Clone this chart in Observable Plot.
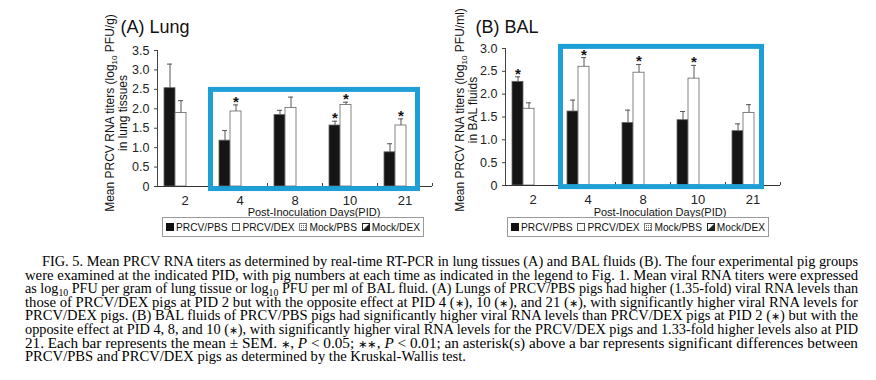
<!DOCTYPE html>
<html>
<head>
<meta charset="utf-8">
<script src="https://cdn.jsdelivr.net/npm/d3@7"></script>
<script src="https://cdn.jsdelivr.net/npm/@observablehq/plot@0.6"></script>
<style>
  body { margin: 0; background: #fff; }
  #wrap { position: relative; width: 876px; height: 380px; overflow: hidden; background: #fff;
          font-family: "Liberation Sans", Arial, sans-serif; }
  .panel { position: absolute; top: 0; }
  .legend { position: absolute; top: 217px; height: 20px; box-sizing: border-box; border: 1px solid #9a9a9a;
            display: flex; align-items: center; justify-content: space-between; padding: 0 3px;
            font-size: 10.2px; color: #111; white-space: nowrap; }
  .legend span.item { display: inline-flex; align-items: center; gap: 2px; }
  .legend svg { display: block; }
  #caption { position: absolute; left: 0; top: 240px; }
</style>
</head>
<body>
<div id="wrap">
  <div class="panel" id="panelA" style="left:0px"></div>
  <div class="panel" id="panelB" style="left:440px"></div>
  <div class="legend" id="legendA" style="left:162px;width:262px"></div>
  <div class="legend" id="legendB" style="left:507px;width:262px"></div>
  <div id="caption"></div>
</div>
<script>
// ---------- data ----------
const pids = ["2", "4", "8", "10", "21"];
const groups = ["PRCV/PBS", "PRCV/DEX", "Mock/PBS", "Mock/DEX"];

// (A) Lung, log10 PFU/g
const lungPBS      = [2.53, 1.18, 1.84, 1.57, 0.88];
const lungPBSsem   = [0.62, 0.26, 0.12, 0.11, 0.22];
const lungDEX      = [1.89, 1.93, 2.02, 2.10, 1.57];
const lungDEXsem   = [0.32, 0.17, 0.28, 0.07, 0.17];
const lungMockPBS  = [0, 0, 0, 0, 0];
const lungMockDEX  = [0, 0, 0, 0, 0];
const lungStarPBS  = [0, 0, 0, 1, 0];
const lungStarDEX  = [0, 1, 0, 1, 1];

// (B) BAL, log10 PFU/ml
const balPBS       = [2.27, 1.62, 1.37, 1.43, 1.19];
const balPBSsem    = [0.11, 0.25, 0.28, 0.19, 0.16];
const balDEX       = [1.68, 2.60, 2.47, 2.34, 1.59];
const balDEXsem    = [0.13, 0.20, 0.18, 0.29, 0.18];
const balMockPBS   = [0, 0, 0, 0, 0];
const balMockDEX   = [0, 0, 0, 0, 0];
const balStarPBS   = [1, 0, 0, 0, 0];
const balStarDEX   = [0, 1, 1, 1, 0];

// highlighted PID range (blue box), in data units
const highlightPids = ["4", "21"];
const lungHighlightY = [-0.13, 2.55];
const balHighlightY  = [-0.09, 3.09];

const yTicksLung = [0, 0.5, 1.0, 1.5, 2.0, 2.5, 3.0, 3.5];
const yTicksBal  = [0, 0.5, 1.0, 1.5, 2.0, 2.5, 3.0];

const captionLines = [
  "FIG. 5. Mean PRCV RNA titers as determined by real-time RT-PCR in lung tissues (A) and BAL fluids (B). The four experimental pig groups",
  "were examined at the indicated PID, with pig numbers at each time as indicated in the legend to Fig. 1. Mean viral RNA titers were expressed",
  "as log_10 PFU per gram of lung tissue or log_10 PFU per ml of BAL fluid. (A) Lungs of PRCV/PBS pigs had higher (1.35-fold) viral RNA levels than",
  "those of PRCV/DEX pigs at PID 2 but with the opposite effect at PID 4 (∗), 10 (∗), and 21 (∗), with significantly higher viral RNA levels for",
  "PRCV/DEX pigs. (B) BAL fluids of PRCV/PBS pigs had significantly higher viral RNA levels than PRCV/DEX pigs at PID 2 (∗) but with the",
  "opposite effect at PID 4, 8, and 10 (∗), with significantly higher viral RNA levels for the PRCV/DEX pigs and 1.33-fold higher levels also at PID",
  "21. Each bar represents the mean ± SEM. ∗, ~P~ < 0.05; ∗∗, ~P~ < 0.01; an asterisk(s) above a bar represents significant differences between",
  "PRCV/PBS and PRCV/DEX pigs as determined by the Kruskal-Wallis test."
];

// ---------- build ----------
function rowsOf(pbs, pbsSem, dex, dexSem, mpbs, mdex, sPbs, sDex) {
  const rows = [];
  pids.forEach((pid, i) => {
    rows.push({pid, group: groups[0], value: pbs[i], sem: pbsSem[i], star: sPbs[i]});
    rows.push({pid, group: groups[1], value: dex[i], sem: dexSem[i], star: sDex[i]});
    rows.push({pid, group: groups[2], value: mpbs[i], sem: 0, star: 0});
    rows.push({pid, group: groups[3], value: mdex[i], sem: 0, star: 0});
  });
  return rows;
}

const fmt = d => d === 0 ? "0" : d3.format(".1f")(d);
const FONT = "Liberation Sans, Arial, sans-serif";

function makePanel(rows, opt) {
  const withErr = rows.filter(d => d.value > 0);
  const plot = Plot.plot({
    width: opt.width, height: opt.height,
    marginLeft: opt.ml, marginRight: opt.mr, marginTop: opt.mt, marginBottom: opt.mb,
    style: {fontFamily: FONT, color: "#222", background: "white", overflow: "visible"},
    fx: {domain: pids, padding: 0, label: null, axis: null},
    x: {domain: groups, paddingInner: 0, paddingOuter: 0.5, align: 0.6, axis: null},
    y: {domain: [0, opt.yMax], label: null, axis: null},
    color: {domain: groups, range: ["#151515", "#ffffff", "#ffffff", "#ffffff"]},
    marks: [
      Plot.axisY({ticks: opt.yTicks, tickFormat: fmt, tickSize: 3, tickPadding: 5, fontSize: 12.5, label: null, stroke: "#444"}),
      Plot.axisFx({anchor: "bottom", tickSize: 0, tickPadding: 9, fontSize: 13, label: null}),
      Plot.barY(rows, {fx: "pid", x: "group", y: "value", fill: "group", stroke: "#666", strokeWidth: 0.8}),
      Plot.ruleX(withErr, {fx: "pid", x: "group", y1: "value", y2: d => d.value + d.sem, stroke: "#555", strokeWidth: 1}),
      Plot.tickY(withErr, {fx: "pid", x: "group", y: d => d.value + d.sem, stroke: "#555", strokeWidth: 1, insetLeft: 3, insetRight: 3}),
      Plot.text(rows.filter(d => d.star), {fx: "pid", x: "group", y: d => d.value + d.sem, text: () => "*",
        lineAnchor: "bottom", dy: 2, fontSize: 15, fontWeight: "bold", fill: "#111"}),
      Plot.ruleY([0], {stroke: "#333", strokeWidth: 1})
    ]
  });

  const svg = d3.select(plot);
  const fx = plot.scale("fx");
  const y = plot.scale("y");
  const bw = fx.bandwidth;
  const x0 = fx.apply(pids[0]);
  const xEnd = fx.apply(pids[pids.length - 1]) + bw;
  const y0 = y.apply(0);

  // y axis line
  svg.append("line").attr("x1", x0 + 0.5).attr("x2", x0 + 0.5)
    .attr("y1", y.apply(opt.yMax)).attr("y2", y0).attr("stroke", "#444");
  // category boundary ticks
  pids.slice(1).map(p => fx.apply(p)).concat([xEnd]).forEach(xx => {
    svg.append("line").attr("x1", xx + 0.5).attr("x2", xx + 0.5)
      .attr("y1", y0).attr("y2", y0 - 3).attr("stroke", "#444");
  });

  // title
  svg.append("text").attr("x", opt.titleX).attr("y", 33).attr("font-size", 18)
    .attr("font-family", FONT).attr("fill", "#111").text(opt.title);

  // y label (two lines, rotated)
  const yl = svg.append("text").attr("transform", `translate(${opt.ylX1},${opt.ylY}) rotate(-90)`)
    .attr("text-anchor", "middle").attr("font-size", 12).attr("font-family", FONT).attr("fill", "#111");
  yl.append("tspan").text("Mean PRCV RNA titers (log");
  yl.append("tspan").attr("font-size", 8).attr("dy", 3).text("10");
  yl.append("tspan").attr("dy", -3).text(" " + opt.unit);
  svg.append("text").attr("transform", `translate(${opt.ylX2},${opt.ylY}) rotate(-90)`)
    .attr("text-anchor", "middle").attr("font-size", 12).attr("font-family", FONT).attr("fill", "#111")
    .text(opt.ylabel2);

  // x label
  svg.append("text").attr("x", opt.xlX).attr("y", 216).attr("text-anchor", "middle")
    .attr("font-size", 11).attr("font-family", FONT).attr("fill", "#111").text("Post-Inoculation Days(PID)");

  // highlight box
  const hx1 = fx.apply(highlightPids[0]) - opt.hlPadL;
  const hx2 = fx.apply(highlightPids[1]) + bw - opt.hlPadR;
  const hy1 = y.apply(opt.hlY[1]);
  const hy2 = y.apply(opt.hlY[0]);
  const sw = 5;
  svg.append("rect").attr("x", hx1 + sw / 2).attr("y", hy1 + sw / 2)
    .attr("width", hx2 - hx1 - sw).attr("height", hy2 - hy1 - sw)
    .attr("fill", "none").attr("stroke", "#1E9FD6").attr("stroke-width", sw);

  return plot;
}

const lungRows = rowsOf(lungPBS, lungPBSsem, lungDEX, lungDEXsem, lungMockPBS, lungMockDEX, lungStarPBS, lungStarDEX);
const balRows  = rowsOf(balPBS, balPBSsem, balDEX, balDEXsem, balMockPBS, balMockDEX, balStarPBS, balStarDEX);

document.getElementById("panelA").appendChild(makePanel(lungRows, {
  width: 440, height: 222, ml: 157, mr: 8, mt: 50, mb: 36, yMax: 3.5, yTicks: yTicksLung,
  title: "(A) Lung", titleX: 155, unit: "PFU/g)", ylabel2: "in lung tissues",
  ylX1: 114, ylX2: 127, ylY: 113, xlX: 314, hlPadL: 4, hlPadR: 12, hlY: lungHighlightY
}));
document.getElementById("panelB").appendChild(makePanel(balRows, {
  width: 436, height: 222, ml: 63, mr: 94, mt: 48, mb: 37, yMax: 3.0, yTicks: yTicksBal,
  title: "(B) BAL", titleX: 67, unit: "PFU/ml)", ylabel2: "in BAL fluids",
  ylX1: 24, ylX2: 37, ylY: 110, xlX: 220, hlPadL: 2, hlPadR: 16, hlY: balHighlightY
}));

// ---------- legends ----------
function swatch(kind) {
  const s = d3.create("svg").attr("width", 8).attr("height", 8);
  if (kind === 0) s.append("rect").attr("x", 0.5).attr("y", 0.5).attr("width", 7).attr("height", 7).attr("fill", "#111").attr("stroke", "#111");
  if (kind === 1) s.append("rect").attr("x", 0.5).attr("y", 0.5).attr("width", 7).attr("height", 7).attr("fill", "#fff").attr("stroke", "#555");
  if (kind === 2) {
    s.append("rect").attr("x", 0.5).attr("y", 0.5).attr("width", 7).attr("height", 7).attr("fill", "#fff").attr("stroke", "#777");
    for (let i = 2; i < 7; i += 2) for (let j = 2; j < 7; j += 2)
      s.append("rect").attr("x", i).attr("y", j).attr("width", 1).attr("height", 1).attr("fill", "#666");
  }
  if (kind === 3) {
    s.append("rect").attr("x", 0.5).attr("y", 0.5).attr("width", 7).attr("height", 7).attr("fill", "#fff").attr("stroke", "#222");
    s.append("path").attr("d", "M0.5,7.5 L7.5,0.5 L7.5,7.5 Z").attr("fill", "#222");
  }
  return s.node();
}
["legendA", "legendB"].forEach(id => {
  const el = document.getElementById(id);
  groups.forEach((g, i) => {
    const item = document.createElement("span");
    item.className = "item";
    item.appendChild(swatch(i));
    const t = document.createElement("span");
    t.textContent = g;
    item.appendChild(t);
    el.appendChild(item);
  });
});

// ---------- caption ----------
(function () {
  const pitch = 13.6, base0 = 26;
  const cap = d3.select("#caption").append("svg").attr("width", 876).attr("height", 140);
  captionLines.forEach((line, i) => {
    const x = i === 0 ? 42 : 25;
    const t = cap.append("text").attr("x", x).attr("y", base0 + i * pitch)
      .attr("font-family", "Liberation Serif, Times New Roman, serif").attr("font-size", 14.5).attr("fill", "#000");
    t.attr("textLength", (i < captionLines.length - 1 ? 858 : 466) - x).attr("lengthAdjust", "spacingAndGlyphs");
    // parse subscripts (_10), italics (~P~) and small asterisks
    const parts = line.split(/(_10|~P~|∗+)/);
    let pendingDy = 0;
    parts.forEach(p => {
      if (!p.length) return;
      if (p === "_10") {
        t.append("tspan").attr("font-size", 10).attr("dy", 3 + pendingDy).text("10");
        pendingDy = -3;
        return;
      }
      const ts = t.append("tspan").text(p === "~P~" ? "P" : p);
      if (p === "~P~") ts.attr("font-style", "italic");
      if (p[0] === "∗") ts.attr("font-size", 10.5).attr("font-weight", "normal");
      if (pendingDy) { ts.attr("dy", pendingDy); pendingDy = 0; }
    });
  });
})();
</script>
</body>
</html>
